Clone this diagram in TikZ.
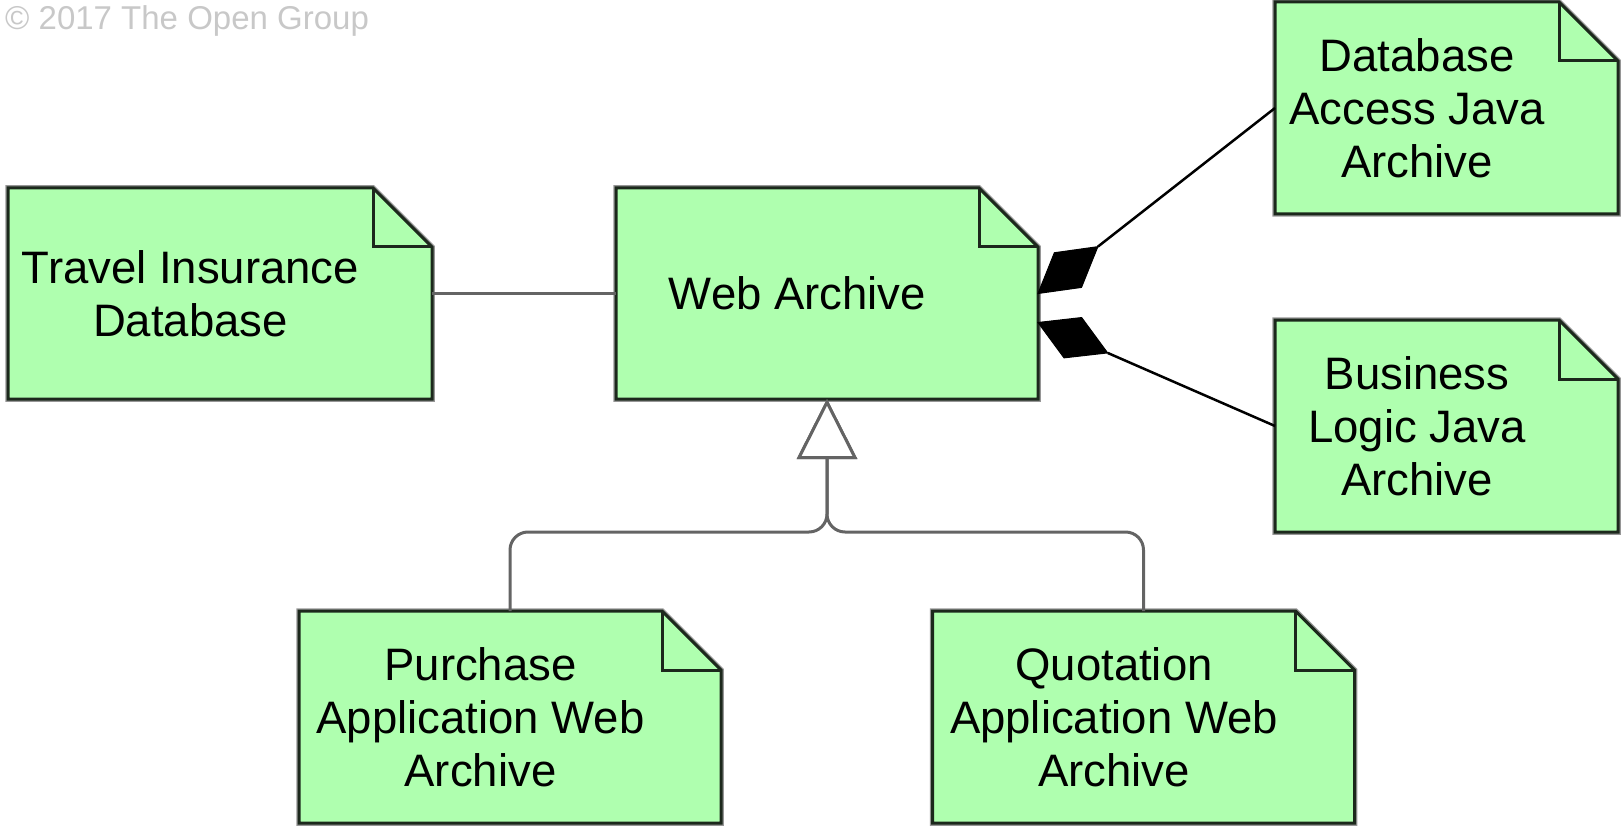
\documentclass[tikz,border=0pt]{standalone}
\usepackage{fontspec}
\setmainfont{Liberation Sans}
\usetikzlibrary{arrows.meta,calc}
\definecolor{artgreen}{RGB}{175,255,175}
\definecolor{edgedark}{RGB}{28,40,28}
\definecolor{halo}{RGB}{150,150,150}
\definecolor{linegrey}{RGB}{100,100,100}
\definecolor{copygrey}{RGB}{200,200,200}
\begin{document}
\begin{tikzpicture}[x=1pt,y=-1pt,
  artbox/.style={minimum width=422pt, minimum height=211pt, inner sep=0pt, outer sep=0pt},
  sidebox/.style={artbox, minimum width=343pt, minimum height=212pt},
  arttext/.style={font=\fontsize{45.5}{53}\selectfont, align=center, inner sep=0pt},
  assoc/.style={draw=linegrey, line width=3pt},
  genline/.style={draw=linegrey, line width=3pt, rounded corners=18pt,
    -{Triangle[length=60pt, width=60pt, fill=white]}},
  compline/.style={draw=black, line width=2.5pt},
  compdiamond/.style={fill=black, draw=black, line width=1pt, line join=miter},
]
\useasboundingbox (0,0) rectangle (1621,826);

\node[anchor=base west, text=copygrey, font=\fontsize{33}{38}\selectfont, inner sep=0pt] (copy) at (5,30) {© 2017 The Open Group};

% boxes
\node[artbox, minimum width=424pt] (travel) at (220,293.5) {};
\node[artbox] (web) at (827,293.5) {};
\node[sidebox] (dbaccess) at (1446.5,108) {};
\node[sidebox] (buslogic) at (1446.5,426) {};
\node[artbox, minimum height=212pt] (purchase) at (510,717) {};
\node[artbox, minimum height=212pt] (quotation) at (1143.5,717) {};

\foreach \n in {travel,web,dbaccess,buslogic,purchase,quotation} {
  \draw[halo, line width=5.5pt, line join=miter]
    (\n.south west) -- (\n.north west) -- ([xshift=-59pt]\n.north east)
    -- ([yshift=-59pt]\n.north east) -- (\n.south east) -- cycle;
  \filldraw[fill=artgreen, draw=edgedark, line width=3pt, line join=miter]
    (\n.south west) -- (\n.north west) -- ([xshift=-59pt]\n.north east)
    -- ([yshift=-59pt]\n.north east) -- (\n.south east) -- cycle;
  \draw[edgedark, line width=3pt]
    ([xshift=-59pt]\n.north east) |- ([yshift=-59pt]\n.north east);
}

% texts
\node[arttext] (travelt) at ([xshift=-29.5pt]travel.center) {Travel Insurance\\Database};
\node[arttext] (webt) at ([xshift=-29.5pt]web.center) {Web Archive};
\node[arttext] (dbaccesst) at ([xshift=-29.5pt]dbaccess.center) {Database\\Access Java\\Archive};
\node[arttext] (buslogict) at ([xshift=-29.5pt]buslogic.center) {Business\\Logic Java\\Archive};
\node[arttext] (purchaset) at ([xshift=-29.5pt]purchase.center) {Purchase\\Application Web\\Archive};
\node[arttext] (quotationt) at ([xshift=-29.5pt]quotation.center) {Quotation\\Application Web\\Archive};

% association
\draw[assoc] (travel.east) -- (web.west);

% compositions
\coordinate (compa) at (web.east);
\coordinate (compb) at ([yshift=-29pt]web.east);
\foreach \s/\t in {compa/dbaccess, compb/buslogic} {
  \fill[compdiamond] (\s)
    -- ($(\s)!38pt!(\t.west)!22pt!90:(\t.west)$)
    -- ($(\s)!76pt!(\t.west)$)
    -- ($(\s)!38pt!(\t.west)!22pt!-90:(\t.west)$) -- cycle;
  \draw[compline] ($(\s)!76pt!(\t.west)$) -- (\t.west);
}

% generalization
\coordinate (junction) at (827,532);
\draw[genline] (purchase.north) |- (junction) -- (web.south);
\draw[genline] (quotation.north) |- (junction) -- (web.south);
\end{tikzpicture}
\end{document}
